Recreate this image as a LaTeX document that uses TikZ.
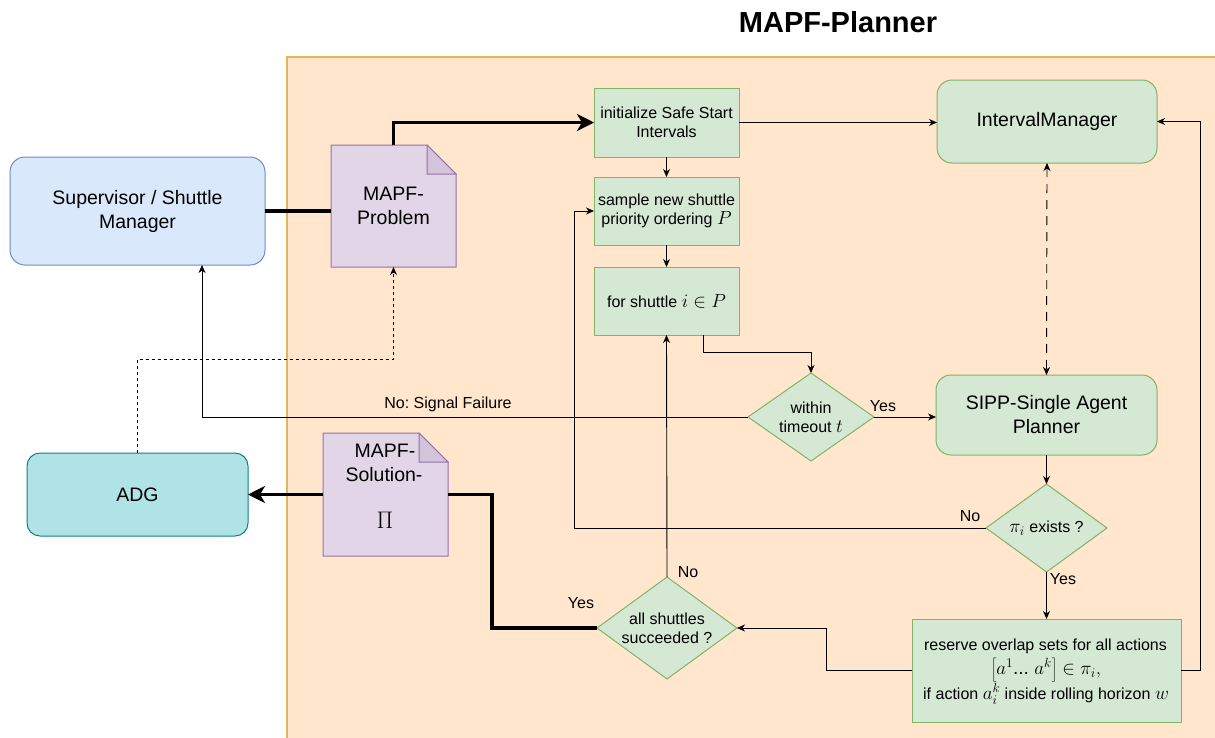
\RequirePackage{fix-cm}
\documentclass[tikz,border=0pt]{standalone}
\usepackage{fontspec}
\setmainfont{Liberation Sans}
\usetikzlibrary{arrows.meta,shapes.geometric}

\definecolor{orgF}{HTML}{FFE6CC}
\definecolor{orgB}{HTML}{E2B65A}
\definecolor{grnF}{HTML}{D5E8D4}
\definecolor{grnB}{HTML}{82B366}
\definecolor{bluF}{HTML}{DAE8FC}
\definecolor{bluB}{HTML}{6C8EBF}
\definecolor{purF}{HTML}{E1D5E7}
\definecolor{purB}{HTML}{9673A6}
\definecolor{purD}{HTML}{D3C4DC}
\definecolor{tealF}{HTML}{B0E3E6}
\definecolor{tealB}{HTML}{0E8088}

\newcommand\fsTitle{\fontsize{29}{34}\selectfont}
\newcommand\fsBig{\fontsize{19.5}{24}\selectfont}
\newcommand\fsMid{\fontsize{16}{19}\selectfont}
\newcommand\fsPi{\fontsize{24}{28}\selectfont}
% math set a little larger than the surrounding text
\newcommand\mth[1]{{\fontsize{19}{19}\selectfont$#1$}}
\frenchspacing

\begin{document}
\begin{tikzpicture}[x=1pt,y=-1pt,
  every node/.style={inner sep=0pt, outer sep=0pt, font=\fsMid},
  gbox/.style={draw=grnB, fill=grnF, line width=1pt, align=center, font=\fsMid},
  grbox/.style={gbox, rounded corners=15pt, font=\fsBig},
  gdia/.style={diamond, draw=grnB, fill=grnF, line width=1pt, align=center, font=\fsMid},
  docshape/.style={draw=purB, fill=purF, line width=1pt},
  docfold/.style={draw=purB, fill=purD, line width=1pt, line join=miter},
  lbl/.style={font=\fsMid},
  arr/.style={line width=0.9pt, -{Stealth[length=8pt,width=7pt,inset=2.5pt]}},
  thickline/.style={line width=3.6pt},
  bigarr/.style={line width=3.6pt, -{Stealth[length=17pt,width=17pt,inset=5pt]}},
  dotarr/.style={line width=0.9pt, dash pattern=on 3pt off 3pt, -{Stealth[length=8pt,width=7pt,inset=2.5pt]}},
  dasharr/.style={line width=0.9pt, dash pattern=on 9pt off 7pt,
    {Stealth[length=8pt,width=7pt,inset=2.5pt]}-{Stealth[length=8pt,width=7pt,inset=2.5pt]}}
]
\useasboundingbox (0,0) rectangle (1215,737);

% planner container
\draw[draw=orgB, fill=orgF, line width=1.3pt] (287,57) rectangle (1230,750);
\node[font=\fsTitle\bfseries] (title) at (838,22) {MAPF-Planner};

% outside components
\node[draw=bluB, fill=bluF, line width=1pt, rounded corners=15pt, align=center, font=\fsBig,
  minimum width=255pt, minimum height=108pt] (sup) at (137.5,211) {Supervisor / Shuttle\\Manager};
\node[draw=tealB, fill=tealF, line width=1pt, rounded corners=13pt, font=\fsBig,
  minimum width=221pt, minimum height=83pt] (adg) at (137.5,494.5) {ADG};

% MAPF problem document
\draw[docshape] (331,145) -- (427,145) -- (456,174) -- (456,267) -- (331,267) -- cycle;
\draw[docfold] (427,145) -- (427,174) -- (456,174) -- cycle;
\node[minimum width=125pt, minimum height=122pt, align=center, font=\fsBig] (mp) at (393.5,206) {MAPF-\\Problem};

% MAPF solution document
\draw[docshape] (323,433) -- (419,433) -- (448,462) -- (448,556) -- (323,556) -- cycle;
\draw[docfold] (419,433) -- (419,462) -- (448,462) -- cycle;
\node[minimum width=125pt, minimum height=123pt] (ms) at (385.5,494.5) {};
\node[font=\fsBig] (msa) at (385,451) {MAPF-};
\node[font=\fsBig] (msb) at (384,475) {Solution-};
\node[font=\fsPi] (msc) at (385,520) {$\Pi$};

% planner steps
\node[gbox, minimum width=145pt, minimum height=69pt] (init) at (666.5,122.5) {initialize Safe Start\\Intervals};
\node[gbox, minimum width=145pt, minimum height=68pt] (sample) at (666.5,211) {sample new shuttle\\priority ordering \mth{P}};
\node[gbox, minimum width=145pt, minimum height=68pt] (for) at (666.5,301) {for shuttle \mth{i \in P}};
\node[grbox, minimum width=220pt, minimum height=83pt] (im) at (1047,121.5) {IntervalManager};
\node[grbox, minimum width=221pt, minimum height=80pt] (sipp) at (1046.5,415) {SIPP-Single Agent\\Planner};
\node[gdia, shape aspect=1.43, minimum width=126pt, minimum height=88pt] (tmo) at (811,417) {within\\timeout \mth{t}};
\node[gdia, shape aspect=1.37, minimum width=121pt, minimum height=88pt] (ex) at (1046.5,528) {\mth{\pi_i} exists ?};
\node[gdia, shape aspect=1.37, minimum width=140pt, minimum height=102pt] (all) at (667,628) {all shuttles\\succeeded ?};
\node[gbox, minimum width=269pt, minimum height=103pt] (res) at (1046.5,670.5) {};
\node (resa) at (1045.5,646) {reserve overlap sets for all actions};
\node (resb) at (1046,670) {\mth{\left[a^1\mbox{...\ }a^k\right] \in \pi_i,}};
\node (resc) at (1046,694) {if action \mth{a_i^k} inside rolling horizon \mth{w}};

% routing helpers
\coordinate (lx) at (574,0);
\coordinate (rx) at (1200,0);
\coordinate (mx) at (826,0);
\coordinate (bx) at (492,0);
\coordinate (fx) at (703,0);
\coordinate (supx) at (202,0);
\coordinate (dy) at (0,359);
\coordinate (ny) at (0,352);

% connectors
\draw[thickline] (sup.east) -- (sup.east -| mp.west);
\draw[bigarr] (mp.north) |- (init.west);
\draw[arr] (init.east) -- (init.east -| im.west);
\draw[arr] (init.south) -- (sample.north);
\draw[arr] (sample.south) -- (for.north);
\draw[arr] (for.south -| fx) -- (fx |- ny) -| (tmo.north);
\draw[arr] (tmo.west) -- (tmo.west -| supx) -- (supx |- sup.south);
\draw[arr] (tmo.east) -- (tmo.east -| sipp.west);
\draw[dasharr] (im.south) -- (sipp.north);
\draw[arr] (sipp.south) -- (ex.north);
\draw[arr] (ex.west) -- (ex.west -| lx) |- (sample.west);
\draw[arr] (ex.south) -- (res.north);
\draw[arr] (res.east) -- (res.east -| rx) |- (im.east);
\draw[arr] (res.west) -- (res.west -| mx) |- (all.east);
\draw[arr] (all.north) -- (for.south);
\draw[thickline] (all.west) -- (all.west -| bx) |- (ms.east);
\draw[bigarr] (ms.west) -- (ms.west -| adg.east);
\draw[dotarr] (adg.north) -- (adg.north |- dy) -| (mp.south);

% branch labels
\node[lbl] (lfail) at (448,404) {No: Signal Failure};
\node[lbl] (lyes1) at (883,406) {Yes};
\node[lbl] (lno1) at (970,516) {No};
\node[lbl] (lyes2) at (1063,579) {Yes};
\node[lbl] (lno2) at (688,572) {No};
\node[lbl] (lyes3) at (581,603) {Yes};
\end{tikzpicture}
\end{document}
